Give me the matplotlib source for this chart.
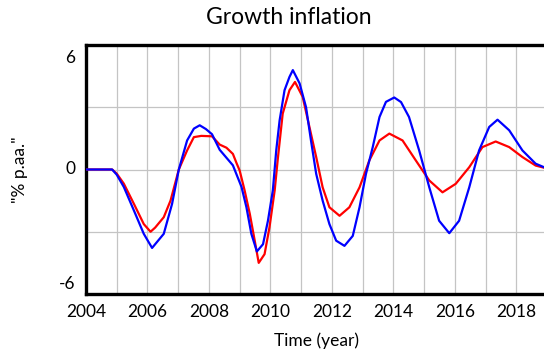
import matplotlib
matplotlib.use("Agg")
import matplotlib.pyplot as plt
import matplotlib.transforms as mtransforms
from matplotlib.ticker import MultipleLocator

plt.rcParams['font.family'] = ['Lato', 'DejaVu Sans']

# ---- data (% p.aa.) ----
t_red = [2004.0, 2004.85, 2005.0, 2005.23, 2005.56, 2005.88, 2006.1, 2006.25,
         2006.53, 2006.75, 2007.02, 2007.29, 2007.51, 2007.75, 2008.1, 2008.35,
         2008.57, 2008.78, 2008.9, 2009.0, 2009.16, 2009.33, 2009.49, 2009.62,
         2009.81, 2009.97, 2010.14, 2010.24, 2010.4, 2010.62, 2010.8, 2011.05,
         2011.27, 2011.49, 2011.7, 2011.92, 2012.25, 2012.57, 2012.9, 2013.22,
         2013.55, 2013.87, 2014.3, 2014.73, 2015.17, 2015.6, 2016.03, 2016.47,
         2016.9, 2017.33, 2017.77, 2018.2, 2018.63, 2019.0]
v_red = [0.0, 0.0, -0.2, -0.68, -1.66, -2.63, -3.0, -2.8,
         -2.3, -1.5, 0.0, 0.92, 1.56, 1.62, 1.6, 1.2,
         1.05, 0.75, 0.3, -0.05, -1.0, -2.14, -3.43, -4.5,
         -4.08, -2.79, -1.0, 0.5, 2.69, 3.82, 4.22, 3.5,
         2.05, 0.6, -0.86, -1.82, -2.23, -1.82, -0.86, 0.44,
         1.4, 1.73, 1.4, 0.44, -0.53, -1.1, -0.69, 0.11,
         1.08, 1.35, 1.08, 0.6, 0.19, 0.05]

t_blue = [2004.0, 2004.85, 2005.0, 2005.23, 2005.56, 2005.88, 2006.15, 2006.53,
          2006.8, 2007.02, 2007.29, 2007.51, 2007.7, 2007.9, 2008.1, 2008.35,
          2008.78, 2009.06, 2009.22, 2009.38, 2009.56, 2009.76, 2009.92, 2010.08,
          2010.19, 2010.3, 2010.46, 2010.62, 2010.73, 2010.95, 2011.16, 2011.32,
          2011.49, 2011.7, 2011.92, 2012.14, 2012.41, 2012.68, 2012.9, 2013.11,
          2013.33, 2013.55, 2013.76, 2014.03, 2014.25, 2014.51, 2014.84, 2015.17,
          2015.49, 2015.82, 2016.14, 2016.47, 2016.79, 2017.12, 2017.39, 2017.77,
          2018.2, 2018.63, 2019.0]
v_blue = [0.0, 0.0, -0.25, -0.84, -1.98, -3.1, -3.78, -3.1,
          -1.66, 0.0, 1.4, 1.97, 2.13, 1.95, 1.7, 0.95,
          0.2, -0.84, -1.82, -3.1, -3.95, -3.6, -2.47, -1.0,
          0.92, 2.37, 3.82, 4.46, 4.79, 4.15, 3.0, 1.4,
          -0.21, -1.5, -2.63, -3.43, -3.68, -3.2, -1.82, -0.21,
          1.08, 2.53, 3.26, 3.47, 3.25, 2.53, 0.92, -0.86,
          -2.47, -3.07, -2.47, -0.86, 0.92, 2.05, 2.4, 1.89,
          0.92, 0.28, 0.05]

x_ticks = [2004, 2006, 2008, 2010, 2012, 2014, 2016, 2018]
y_ticks = [-6, 0, 6]
y_labels = ["-6", "0", "6"]

# ---- figure ----
fig = plt.figure(figsize=(5.44, 3.52), dpi=100)
ax = fig.add_axes([86 / 544, 1 - 294 / 352, 461 / 544, 249 / 352])

ax.plot(t_red, v_red, color='#ff0000', lw=1.6, zorder=3)
ax.plot(t_blue, v_blue, color='#0000ff', lw=1.6, zorder=4)

ax.set_xlim(2004, 2019)
ax.set_ylim(-6, 6)
ax.set_xticks(x_ticks)
ax.set_yticks(y_ticks)
ax.xaxis.set_minor_locator(MultipleLocator(1))
ax.yaxis.set_minor_locator(MultipleLocator(3))
ax.grid(True, which='both', color='#c4c4c4', lw=0.9)
ax.set_axisbelow(True)

ax.tick_params(which='both', length=0)
ax.tick_params(axis='x', labelsize=12.5, pad=7)
ax.tick_params(axis='y', labelleft=False)

for s in ['left', 'top', 'bottom']:
    ax.spines[s].set_linewidth(2.4)
    ax.spines[s].set_color('black')
ax.spines['right'].set_visible(False)

# y labels sit a little inside the frame at the ends
for val, lab in zip(y_ticks, y_labels):
    dy = {6: -13, -6: 10}.get(val, 0)
    off = mtransforms.ScaledTranslation(-11 / 100, dy / 100, fig.dpi_scale_trans)
    ax.text(0, val, lab, transform=ax.get_yaxis_transform() + off,
            ha='right', va='center', fontsize=12.5)

ax.set_xlabel("Time (year)", fontsize=12.5, labelpad=9)
fig.text(20 / 544, 1 - 170 / 352, '"% p.aa."', fontsize=12.5,
         rotation=90, ha='center', va='center')

fig.text(289 / 544, 1 - 18 / 352, "Growth inflation", fontsize=16.5,
         ha='center', va='center')

fig.savefig("out.png", dpi=100)
